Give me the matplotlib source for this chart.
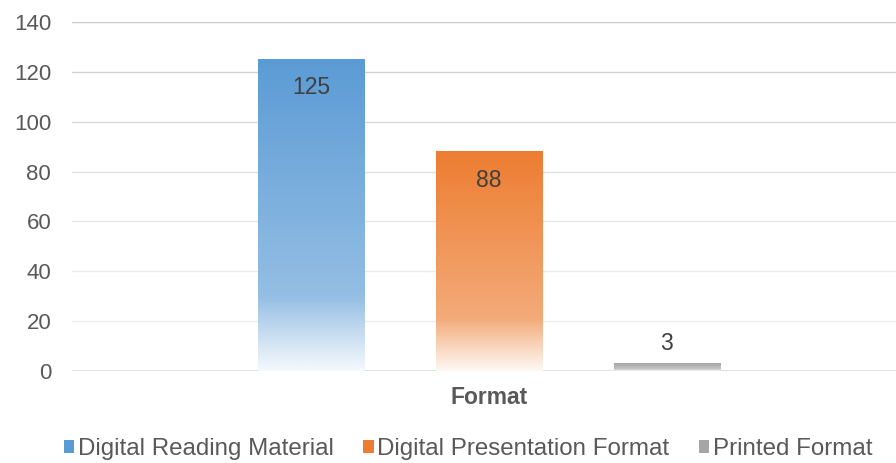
import numpy as np
import matplotlib.pyplot as plt
from matplotlib.patches import Patch
from matplotlib.colors import to_rgb

plt.rcParams['font.family'] = ['Liberation Sans', 'DejaVu Sans']

# data
series = ['Digital Reading Material', 'Digital Presentation Format', 'Printed Format']
values = [125, 88, 3]
colors = ['#5B9BD5', '#ED7D31', '#A5A5A5']
category = 'Format'

text_col = '#595959'
fig = plt.figure(figsize=(8.96, 4.63), dpi=100)
ax = fig.add_axes([72 / 896, 92 / 463, 824 / 896, 349 / 463])

pos = np.arange(len(values)) - 1
width = 0.596

# gradient: opaque at top, fading to almost white at the bottom
n = 256
t = np.linspace(0, 1, n)  # 0 = bottom, 1 = top
alpha = np.interp(t, [0, 0.1, 0.24, 1.0], [0.06, 0.3, 0.65, 1.0])

for x, v, c in zip(pos, values, colors):
    rgb = np.array(to_rgb(c))
    img = np.ones((n, 1, 3))
    img[:, 0, :] = (1 - alpha[:, None]) * 1.0 + alpha[:, None] * rgb
    ax.imshow(img[::-1], extent=[x - width / 2, x + width / 2, 0, v],
              aspect='auto', origin='upper', zorder=3, interpolation='bicubic')
    if v > 20:
        ax.text(x, v - 11.4, str(v), ha='center', va='center', fontsize=16.5,
                color='#404040', zorder=4)
    else:
        ax.text(x, v + 3.3, str(v), ha='center', va='bottom', fontsize=16.5,
                color='#404040', zorder=4)

ax.set_xlim(-2.343, 2.287)
ax.set_ylim(0, 140)

ticks = np.arange(0, 141, 20)
grid_cols = ['#D9D9D9', '#EEEEEE', '#EBEBEB', '#E6E6E6', '#E0E0E0', '#D9D9D9', '#D0D0D0', '#CCCCCC']
for yv, gc in zip(ticks, grid_cols):
    ax.axhline(yv, color=gc, lw=1.2 if yv == 0 else 1.0, zorder=1)

ax.set_yticks(ticks)
ax.set_yticklabels([str(v) for v in ticks])
ax.tick_params(axis='y', length=0, pad=15, labelsize=16, labelcolor=text_col)
ax.set_xticks([])
for s in ax.spines.values():
    s.set_visible(False)

fig.text(489 / 896, 1 - 398 / 463, category, ha='center', va='center',
         fontsize=16.5, fontweight='bold', color=text_col)

handles = [Patch(facecolor=c, edgecolor='none') for c in colors]
fig.legend(handles, series, loc='center', bbox_to_anchor=(468 / 896, 1 - 449 / 463),
           ncol=3, frameon=False, fontsize=17.4, labelcolor=text_col,
           handlelength=0.45, handleheight=0.45, handletextpad=0.15, columnspacing=1.2)

fig.savefig('out.png', dpi=100)
